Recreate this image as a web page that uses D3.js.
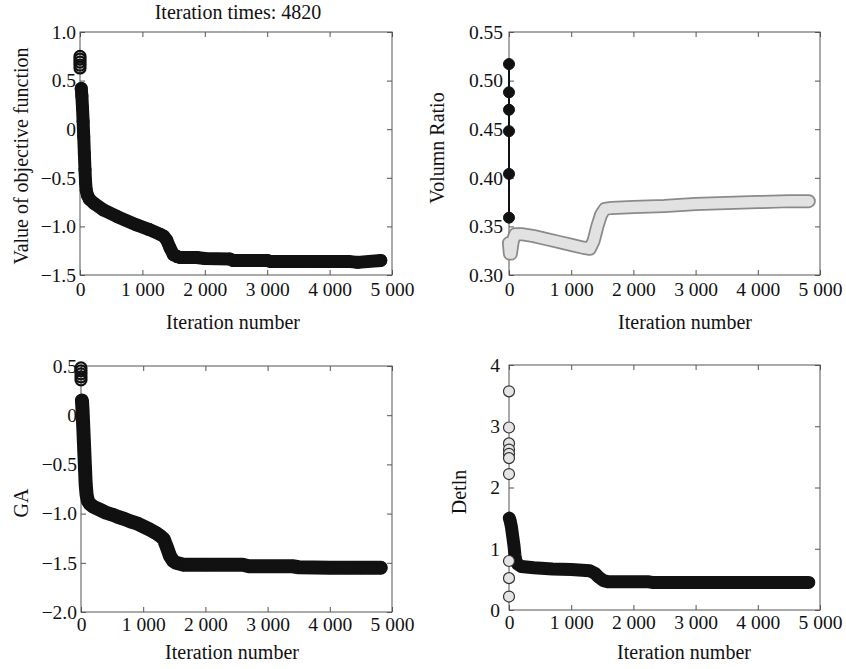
<!DOCTYPE html>
<html>
<head>
<meta charset="utf-8">
<script src="https://cdn.jsdelivr.net/npm/d3@7"></script>
<style>
  html, body { margin: 0; padding: 0; background: #fff; }
  svg { display: block; }
  text { font-family: "Liberation Serif", "Times New Roman", serif; fill: #111; }
</style>
</head>
<body>
<svg id="chart" width="846" height="669"></svg>
<script>
// ---------------- DATA ----------------
const xTicks = [0, 1000, 2000, 3000, 4000, 5000];
const xTickLabels = ["0", "1 000", "2 000", "3 000", "4 000", "5 000"];
const titleText = "Iteration times: 4820";
const xLabelText = "Iteration number";

// Panel 1: objective function
const objOutIter = [0, 0, 0, 0, 0];
const objOutVal = [0.75, 0.72, 0.69, 0.66, 0.63];
const objIter = [20, 30, 40, 50, 60, 70, 80, 90, 100, 120, 150, 220, 374, 600, 908, 1100, 1282, 1340, 1389, 1442, 1496, 1560, 1603, 1870, 2000, 2400, 2450, 3000, 3050, 3500, 4000, 4300, 4450, 4820];
const objVal  = [0.42, 0.34, 0.22, 0.08, -0.08, -0.25, -0.42, -0.55, -0.63, -0.68, -0.72, -0.76, -0.83, -0.90, -0.985, -1.03, -1.08, -1.10, -1.14, -1.22, -1.29, -1.31, -1.32, -1.32, -1.33, -1.335, -1.35, -1.35, -1.36, -1.36, -1.36, -1.36, -1.37, -1.35];
const objYTicks = [1.0, 0.5, 0, -0.5, -1.0, -1.5];
const objYLabels = ["1.0", "0.5", "0", "\u22120.5", "\u22121.0", "\u22121.5"];

// Panel 2: volume ratio
const volDotIter = [0, 0, 0, 0, 0, 0];
const volDotVal = [0.517, 0.488, 0.470, 0.448, 0.404, 0.359];
const volIter = [0, 15, 30, 60, 100, 200, 400, 600, 800, 1000, 1200, 1300, 1360, 1420, 1480, 1540, 1650, 2000, 2500, 3000, 3500, 4000, 4500, 4820];
const volVal  = [0.333, 0.322, 0.322, 0.335, 0.342, 0.342, 0.340, 0.337, 0.334, 0.331, 0.328, 0.327, 0.335, 0.350, 0.362, 0.368, 0.369, 0.370, 0.371, 0.373, 0.374, 0.375, 0.376, 0.376];
const volYTicks = [0.30, 0.35, 0.40, 0.45, 0.50, 0.55];
const volYLabels = ["0.30", "0.35", "0.40", "0.45", "0.50", "0.55"];

// Panel 3: GA
const gaOutIter = [0, 0, 0, 0, 0];
const gaOutVal = [0.48, 0.45, 0.42, 0.39, 0.36];
const gaIter = [15, 25, 35, 45, 55, 65, 75, 90, 110, 140, 200, 300, 400, 500, 600, 700, 800, 900, 1000, 1100, 1200, 1280, 1330, 1380, 1430, 1480, 1530, 1650, 2000, 2600, 2700, 3400, 3500, 4000, 4500, 4820];
const gaVal  = [0.15, 0.05, -0.10, -0.25, -0.40, -0.55, -0.70, -0.81, -0.87, -0.90, -0.93, -0.96, -0.99, -1.01, -1.035, -1.055, -1.08, -1.10, -1.13, -1.16, -1.195, -1.23, -1.26, -1.34, -1.43, -1.48, -1.50, -1.52, -1.52, -1.52, -1.535, -1.535, -1.545, -1.55, -1.55, -1.55];
const gaYTicks = [0.5, 0, -0.5, -1.0, -1.5, -2.0];
const gaYLabels = ["0.5", "0", "\u22120.5", "\u22121.0", "\u22121.5", "\u22122.0"];

// Panel 4: Detln
const detOutIter = [0, 0, 0, 0, 0, 0, 0, 0, 0, 0];
const detOutVal = [3.57, 2.98, 2.72, 2.62, 2.55, 2.48, 2.22, 0.80, 0.52, 0.22];
const detIter = [5, 20, 40, 60, 80, 95, 110, 140, 200, 400, 700, 1000, 1300, 1380, 1450, 1520, 1600, 2000, 2250, 2300, 3000, 4000, 4820];
const detVal  = [1.50, 1.45, 1.35, 1.20, 1.05, 0.90, 0.80, 0.75, 0.71, 0.69, 0.67, 0.66, 0.64, 0.60, 0.53, 0.48, 0.46, 0.46, 0.46, 0.45, 0.45, 0.45, 0.45];
const detYTicks = [0, 1, 2, 3, 4];
const detYLabels = ["0", "1", "2", "3", "4"];

// ---------------- DRAWING ----------------
const svg = d3.select("#chart");
const TICK_FS = 19.5, LABEL_FS = 20;

function panel(cfg) {
  const x = d3.scaleLinear().domain([0, 5000]).range([cfg.l, cfg.r]);
  const y = d3.scaleLinear().domain(cfg.yDomain).range([cfg.b, cfg.t]);
  const g = svg.append("g");

  g.append("rect")
    .attr("x", cfg.l).attr("y", cfg.t)
    .attr("width", cfg.r - cfg.l).attr("height", cfg.b - cfg.t)
    .attr("fill", "none").attr("stroke", "#555").attr("stroke-width", 1);

  const styleAxis = sel => {
    sel.select(".domain").remove();
    sel.selectAll(".tick line").attr("stroke", "#555");
    sel.selectAll(".tick text").style("font-size", TICK_FS + "px")
      .style("font-family", "'Liberation Serif', 'Times New Roman', serif").attr("fill", "#111");
  };

  g.append("g").attr("transform", `translate(0,${cfg.b})`)
    .call(d3.axisBottom(x).tickValues(xTicks).tickFormat((d, i) => xTickLabels[i])
      .tickSizeInner(-5).tickSizeOuter(0).tickPadding(cfg.xPad))
    .call(styleAxis);
  g.append("g").attr("transform", `translate(0,${cfg.t})`)
    .call(d3.axisTop(x).tickValues(xTicks).tickFormat("").tickSizeInner(-5).tickSizeOuter(0))
    .call(styleAxis);
  g.append("g").attr("transform", `translate(${cfg.l},0)`)
    .call(d3.axisLeft(y).tickValues(cfg.yTicks).tickFormat((d, i) => cfg.yLabels[i])
      .tickSizeInner(-5).tickSizeOuter(0).tickPadding(cfg.yPad))
    .call(styleAxis);
  g.append("g").attr("transform", `translate(${cfg.r},0)`)
    .call(d3.axisRight(y).tickValues(cfg.yTicks).tickFormat("").tickSizeInner(-5).tickSizeOuter(0))
    .call(styleAxis);

  g.append("text").attr("x", cfg.xLabelX).attr("y", cfg.xLabelY)
    .attr("text-anchor", "middle").style("font-size", LABEL_FS + "px").text(xLabelText);
  g.append("text").attr("transform", `translate(${cfg.yLabelX},${cfg.yLabelY}) rotate(-90)`)
    .attr("text-anchor", "middle").style("font-size", LABEL_FS + "px").text(cfg.yLabel);

  return { g, x, y };
}

function band(p, iter, val, color, width) {
  const line = d3.line().x((d, i) => p.x(iter[i])).y((d, i) => p.y(val[i]));
  p.g.append("path").datum(val).attr("d", line)
    .attr("fill", "none").attr("stroke", color).attr("stroke-width", width)
    .attr("stroke-linecap", "round").attr("stroke-linejoin", "round");
}
function markers(p, iter, val, r, fill, stroke, sw) {
  p.g.append("g").selectAll("circle").data(val).join("circle")
    .attr("cx", (d, i) => p.x(iter[i])).attr("cy", d => p.y(d)).attr("r", r)
    .attr("fill", fill).attr("stroke", stroke).attr("stroke-width", sw);
}

// Panel 1
const p1 = panel({ l: 80, r: 392, t: 32, b: 275, yDomain: [-1.5, 1.0], yTicks: objYTicks, yLabels: objYLabels,
  xPad: 7, yPad: 4, xLabelX: 233, xLabelY: 329, yLabelX: 28, yLabelY: 156, yLabel: "Value of objective function" });
band(p1, objIter, objVal, "#111", 13);
markers(p1, objIter, objVal, 5.5, "none", "#111", 2);
markers(p1, objOutIter, objOutVal, 5.5, "none", "#111", 2.2);
svg.append("text").attr("x", 238).attr("y", 19).attr("text-anchor", "middle")
  .style("font-size", LABEL_FS + "px").text(titleText);

// Panel 2
const p2 = panel({ l: 509, r: 820, t: 32, b: 275, yDomain: [0.30, 0.55], yTicks: volYTicks, yLabels: volYLabels,
  xPad: 7, yPad: 6, xLabelX: 685, xLabelY: 329, yLabelX: 444, yLabelY: 148, yLabel: "Volumn Ratio" });
band(p2, volIter, volVal, "#8a8a8a", 14);
band(p2, volIter, volVal, "#e2e2e2", 10.5);
p2.g.append("path").datum(volDotVal)
  .attr("d", d3.line().x((d, i) => p2.x(volDotIter[i])).y(d => p2.y(d)))
  .attr("stroke", "#111").attr("stroke-width", 2).attr("fill", "none");
markers(p2, volDotIter, volDotVal, 5.5, "#111", "#111", 1);

// Panel 3
const p3 = panel({ l: 81, r: 392, t: 366, b: 612, yDomain: [-2.0, 0.5], yTicks: gaYTicks, yLabels: gaYLabels,
  xPad: 5, yPad: 4, xLabelX: 232, xLabelY: 659, yLabelX: 28, yLabelY: 503, yLabel: "GA" });
band(p3, gaIter, gaVal, "#111", 14);
markers(p3, gaIter, gaVal, 5.5, "none", "#111", 2);
markers(p3, gaOutIter, gaOutVal, 5.5, "none", "#111", 2.2);

// Panel 4
const p4 = panel({ l: 509, r: 820, t: 365, b: 610, yDomain: [0, 4], yTicks: detYTicks, yLabels: detYLabels,
  xPad: 5, yPad: 9, xLabelX: 684, xLabelY: 659, yLabelX: 466, yLabelY: 492, yLabel: "Detln" });
band(p4, detIter, detVal, "#111", 13);
markers(p4, detOutIter, detOutVal, 5.5, "#e4e4e4", "#333", 1.2);
</script>
</body>
</html>
